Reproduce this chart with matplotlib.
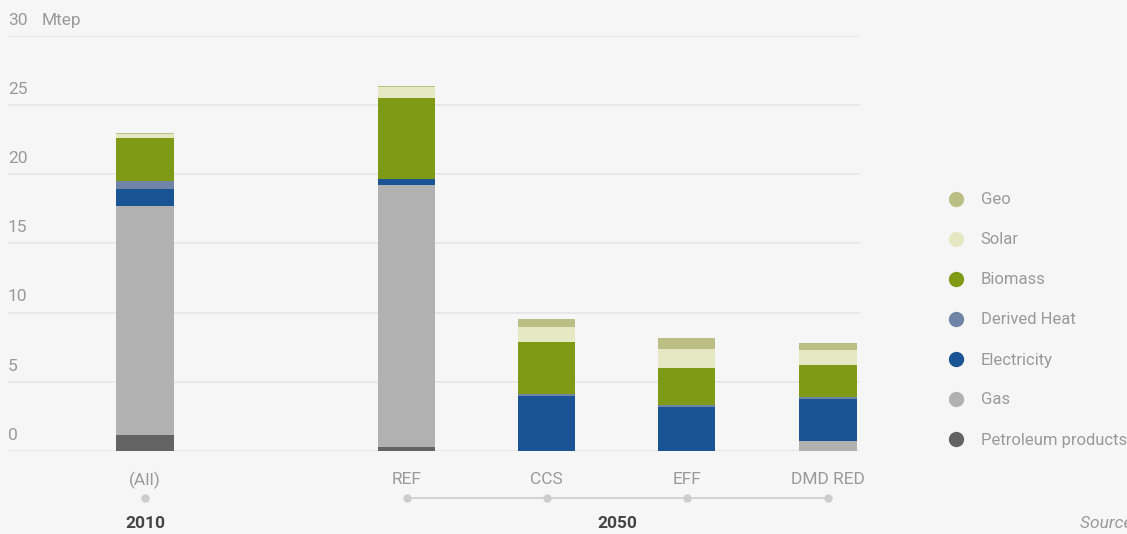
import matplotlib
matplotlib.use("Agg")
import matplotlib.pyplot as plt
from matplotlib.lines import Line2D
from matplotlib import font_manager
import logging

logging.getLogger("matplotlib.font_manager").setLevel(logging.ERROR)

categories = ["(All)", "REF", "CCS", "EFF", "DMD RED"]
years = ["2010", "2050"]

petroleum = [1.16, 0.29, 0.0, 0.0, 0.0]
gas = [16.55, 18.94, 0.0, 0.0, 0.72]
electricity = [1.24, 0.44, 3.98, 3.18, 3.04]
derived_heat = [0.56, 0.0, 0.14, 0.15, 0.14]
biomass = [3.15, 5.85, 3.76, 2.67, 2.32]
solar = [0.27, 0.82, 1.09, 1.38, 1.08]
geo = [0.06, 0.07, 0.57, 0.79, 0.51]

series = [
    ("Petroleum products", petroleum, "#636363"),
    ("Gas", gas, "#b1b1b1"),
    ("Electricity", electricity, "#1a5494"),
    ("Derived Heat", derived_heat, "#6f84a6"),
    ("Biomass", biomass, "#7f9a15"),
    ("Solar", solar, "#e6e8c4"),
    ("Geo", geo, "#bcbf85"),
]

names = [f.name for f in font_manager.fontManager.ttflist]
fam = [f for f in ["Liberation Sans Narrow", "Roboto", "DejaVu Sans"] if f in names]
plt.rcParams["font.family"] = fam

bg = "#f6f6f6"
txt = "#9a9a9a"

fig = plt.figure(figsize=(11.27, 5.34), dpi=100, facecolor=bg)
ax = fig.add_axes([8 / 1127, 83 / 534, 852 / 1127, 415 / 534], facecolor=bg)

xpos = [0, 1.87, 2.87, 3.87, 4.88]
bottom = [0.0] * len(categories)
for name, vals, col in series:
    ax.bar(xpos, vals, width=0.41, bottom=bottom, color=col, zorder=3)
    bottom = [b + v for b, v in zip(bottom, vals)]

ax.set_xlim(-0.98, 5.11)
ax.set_ylim(0, 30)
for s in ax.spines.values():
    s.set_visible(False)
ax.set_yticks(range(0, 31, 5))
ax.yaxis.grid(True, color="#e6e6e6", linewidth=1.2, zorder=0)
ax.tick_params(axis="y", length=0, labelleft=False)
for v in range(0, 31, 5):
    ax.text(0, v + 0.6, str(v), transform=ax.get_yaxis_transform(),
            ha="left", va="bottom", fontsize=12.5, color=txt)
ax.text(34 / 852, 30.6, "Mtep", transform=ax.get_yaxis_transform(),
        ha="left", va="bottom", fontsize=12.5, color=txt)

ax.set_xticks(xpos)
ax.set_xticklabels(categories, fontsize=12.5, color=txt)
ax.tick_params(axis="x", length=0, pad=15)

trans = ax.get_xaxis_transform()
ax.plot([xpos[0]], [-0.113], "o", color="#cccccc", ms=5, transform=trans, clip_on=False)
ax.plot(xpos[1:], [-0.113] * 4, "-o", color="#cccccc", ms=5, lw=1.2,
        transform=trans, clip_on=False)
ax.text(xpos[0], -0.175, years[0], transform=trans, ha="center", va="center",
        fontsize=12.5, fontweight="bold", color="#444444")
ax.text((xpos[1] + xpos[4]) / 2, -0.175, years[1], transform=trans, ha="center",
        va="center", fontsize=12.5, fontweight="bold", color="#444444")

handles = [Line2D([], [], marker="o", ls="", color=c, ms=10) for _, _, c in series[::-1]]
labels = [n for n, _, _ in series[::-1]]
fig.legend(handles, labels, loc="center left", bbox_to_anchor=(939 / 1127, 1 - 320 / 534),
           frameon=False, fontsize=12, labelcolor=txt, labelspacing=1.5,
           handletextpad=0.9, handlelength=1.2, borderaxespad=0)

fig.text(1080 / 1127, 1 - 523 / 534, "Source: ", fontsize=12.5, style="italic",
         color=txt, ha="left", va="center")

fig.savefig("out.png", dpi=100, facecolor=bg)
